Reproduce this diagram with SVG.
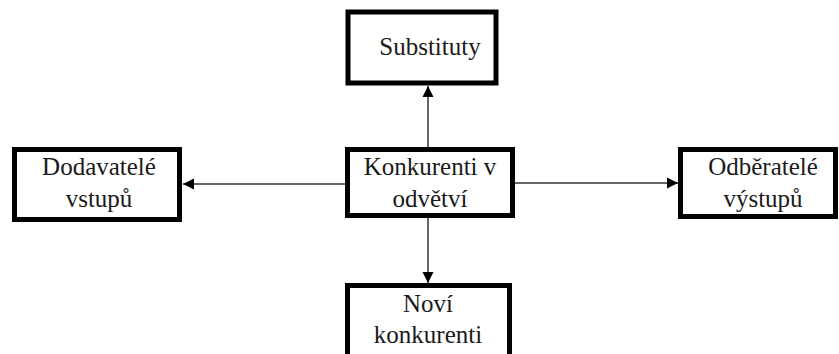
<svg xmlns="http://www.w3.org/2000/svg" width="839" height="354" viewBox="0 0 839 354">
<style>
.box{fill:#fff;stroke:#000;stroke-width:5}
.lbl{font-family:"Liberation Serif","Times New Roman",serif;font-size:25px;fill:#1a1a1a;text-anchor:middle}
.con{stroke:#333;stroke-width:1.5;fill:none;marker-end:url(#ah)}
</style>
<defs>
<marker id="ah" markerWidth="12" markerHeight="12" refX="11" refY="6" orient="auto" markerUnits="userSpaceOnUse">
<path d="M0,0.5 L11,6 L0,11.5 Z" fill="#000"/>
</marker>
</defs>
<g id="connectors">
<line class="con" x1="345" y1="184" x2="183" y2="184"/>
<line class="con" x1="515" y1="183" x2="678" y2="183"/>
<line class="con" x1="428" y1="147" x2="428" y2="86"/>
<line class="con" x1="428" y1="218" x2="428" y2="283"/>
</g>
<g id="substituty">
<rect class="box" x="348" y="12" width="148" height="71"/>
<text class="lbl" x="430" y="55">Substituty</text>
</g>
<g id="dodavatele">
<rect class="box" x="14.5" y="149.5" width="165" height="70"/>
<text class="lbl" x="99" y="175">Dodavatelé</text>
<text class="lbl" x="99" y="207">vstupů</text>
</g>
<g id="konkurenti">
<rect class="box" x="347.5" y="149.5" width="165" height="66"/>
<text class="lbl" x="430" y="175">Konkurenti v</text>
<text class="lbl" x="430" y="207">odvětví</text>
</g>
<g id="odberatele">
<rect class="box" x="680.5" y="149.5" width="155" height="67"/>
<text class="lbl" x="763" y="175">Odběratelé</text>
<text class="lbl" x="763" y="207">výstupů</text>
</g>
<g id="novi">
<rect class="box" x="347.5" y="285.5" width="162" height="80"/>
<text class="lbl" x="428" y="312">Noví</text>
<text class="lbl" x="428" y="343">konkurenti</text>
</g>
</svg>
